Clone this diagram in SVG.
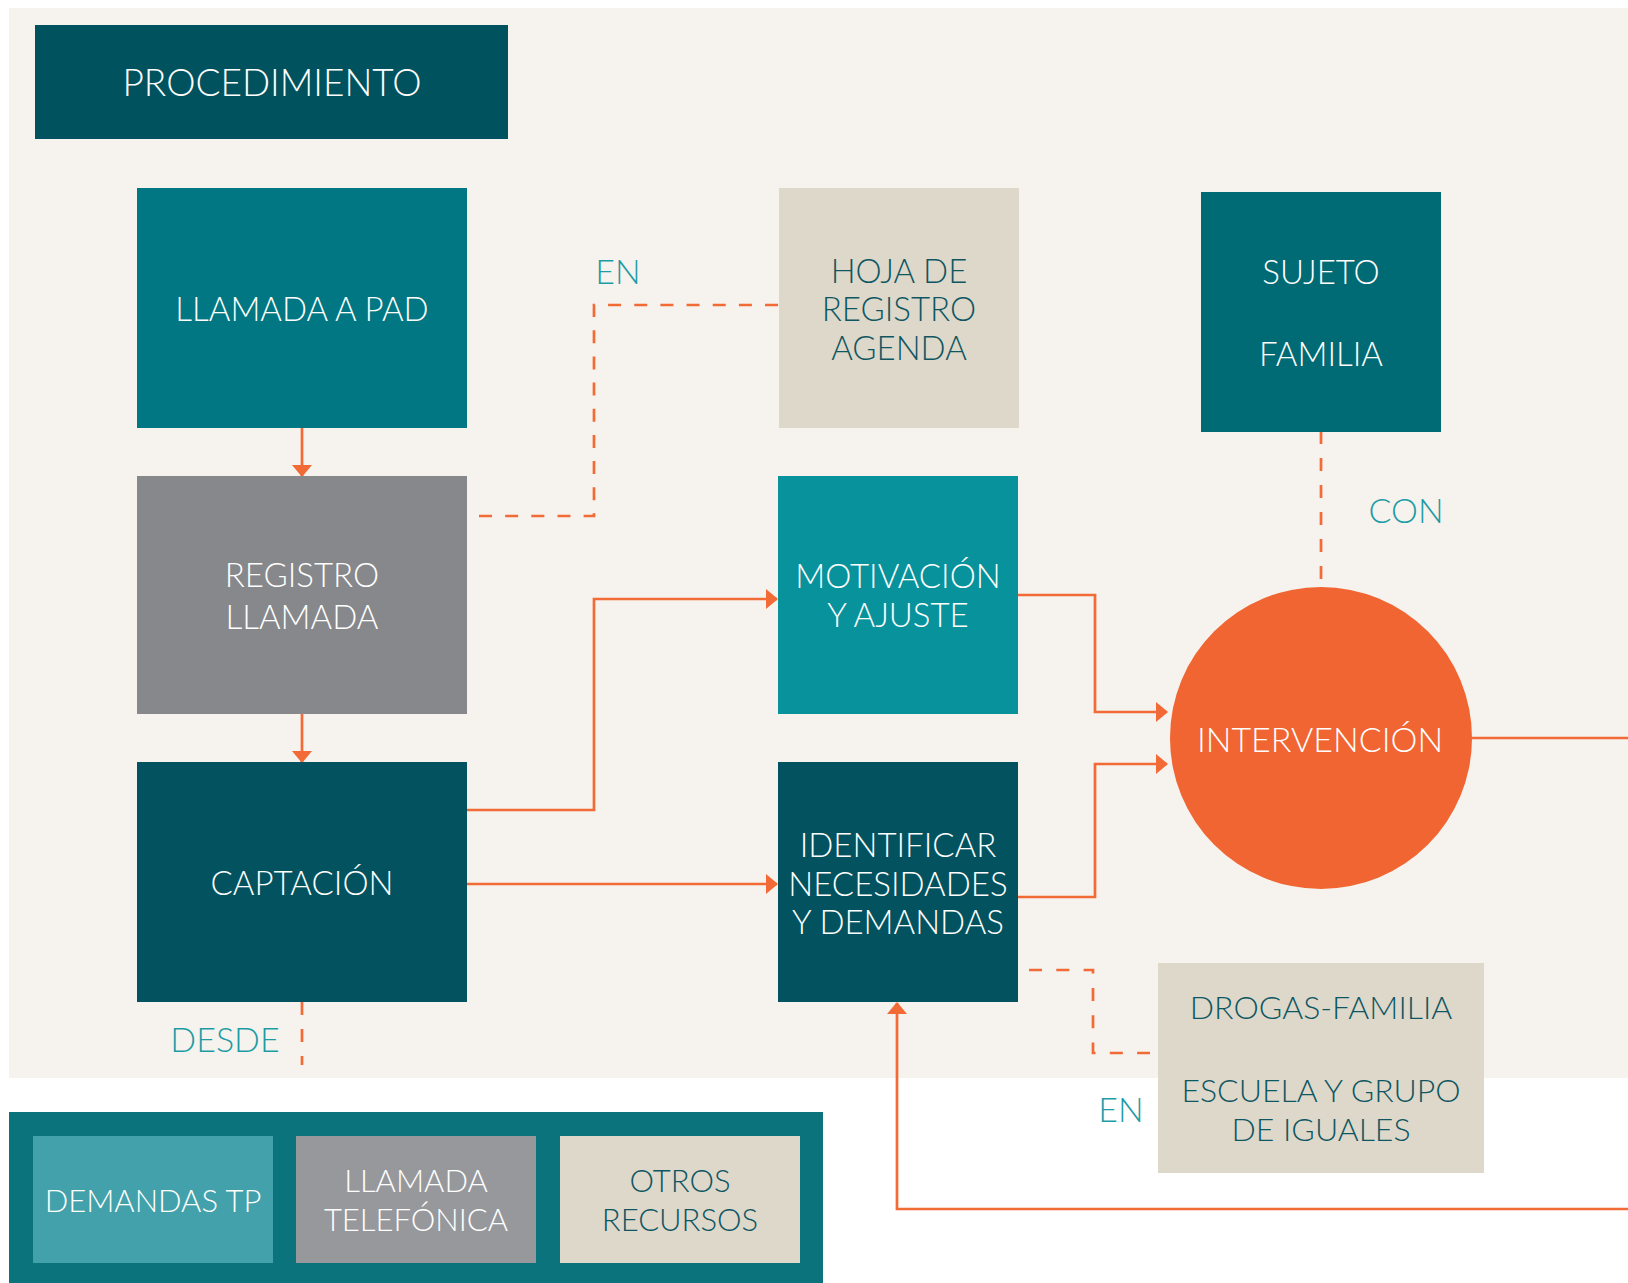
<svg xmlns="http://www.w3.org/2000/svg" width="1628" height="1283" viewBox="0 0 1628 1283">
<defs>
<style>
.t{font-family:Lato,"Open Sans","DejaVu Sans",sans-serif;font-weight:300;text-anchor:middle}
.w{fill:#ffffff}
.d{fill:#0E5762}
.lab{fill:#1D9CA6;font-size:34px}
.n{font-size:33px}
.ln{fill:none;stroke:#F26A35;stroke-width:2.7}
.dash{stroke-dasharray:13 14}
</style>
<marker id="ah" viewBox="0 0 12 20" refX="11" refY="10" markerWidth="12" markerHeight="20" markerUnits="userSpaceOnUse" orient="auto">
<path d="M0,0 L12,10 L0,20 Z" fill="#F26A35"/>
</marker>
</defs>
<rect x="0" y="0" width="1628" height="1283" fill="#ffffff"/>
<rect x="9" y="8" width="1619" height="1070" fill="#F6F3EE"/>

<g id="title">
<rect x="35" y="25" width="473" height="114" fill="#00535E"/>
<text class="t w" x="272" y="96" font-size="37">PROCEDIMIENTO</text>
</g>

<g id="connectors">
<path class="ln" d="M302,428 V476" marker-end="url(#ah)"/>
<path class="ln" d="M302,714 V762" marker-end="url(#ah)"/>
<path class="ln dash" style="stroke-dasharray:13 13.16" d="M479,516 H594 V305 H778"/>
<path class="ln" d="M467,810 H594 V599 H777" marker-end="url(#ah)"/>
<path class="ln" d="M467,884 H777" marker-end="url(#ah)"/>
<path class="ln" d="M1018,595 H1095 V712 H1167" marker-end="url(#ah)"/>
<path class="ln" d="M1018,897 H1095 V764 H1167" marker-end="url(#ah)"/>
<path class="ln dash" d="M1321,431 V587"/>
<path class="ln" d="M1472,738 H1700 V1209 H897 V1003" marker-end="url(#ah)"/>
<path class="ln dash" style="stroke-dasharray:13 14.3" d="M1029,970 H1093 V1053 H1150"/>
<path class="ln dash" d="M302,1002 V1065"/>
<text class="t lab" x="618" y="284">EN</text>
<text class="t lab" x="1406" y="523">CON</text>
<text class="t lab" x="1121" y="1122">EN</text>
<text class="t lab" x="225" y="1052">DESDE</text>
</g>

<g id="llamada-pad">
<rect x="137" y="188" width="330" height="240" fill="#007782"/>
<text class="t w n" x="302" y="321">LLAMADA A PAD</text>
</g>
<g id="registro-llamada">
<rect x="137" y="476" width="330" height="238" fill="#87888C"/>
<text class="t w n" x="302" y="587">REGISTRO</text>
<text class="t w n" x="302" y="629">LLAMADA</text>
</g>
<g id="captacion">
<rect x="137" y="762" width="330" height="240" fill="#02535F"/>
<text class="t w n" x="302" y="895">CAPTACIÓN</text>
</g>
<g id="hoja-registro">
<rect x="779" y="188" width="240" height="240" fill="#DED8CB"/>
<text class="t d n" x="899" y="283">HOJA DE</text>
<text class="t d n" x="899" y="321">REGISTRO</text>
<text class="t d n" x="899" y="360">AGENDA</text>
</g>
<g id="motivacion">
<rect x="778" y="476" width="240" height="238" fill="#07929C"/>
<text class="t w n" x="898" y="588">MOTIVACIÓN</text>
<text class="t w n" x="898" y="627">Y AJUSTE</text>
</g>
<g id="identificar">
<rect x="778" y="762" width="240" height="240" fill="#02535F"/>
<text class="t w n" x="898" y="857">IDENTIFICAR</text>
<text class="t w n" x="898" y="896">NECESIDADES</text>
<text class="t w n" x="898" y="934">Y DEMANDAS</text>
</g>
<g id="sujeto-familia">
<rect x="1201" y="192" width="240" height="240" fill="#006A75"/>
<text class="t w n" x="1321" y="284">SUJETO</text>
<text class="t w n" x="1321" y="366">FAMILIA</text>
</g>
<g id="intervencion">
<circle cx="1321" cy="738" r="151" fill="#F06532"/>
<text class="t w" x="1320" y="752" font-size="34">INTERVENCIÓN</text>
</g>
<g id="drogas-familia">
<rect x="1158" y="963" width="326" height="210" fill="#DED8CB"/>
<text class="t d" x="1321" y="1019" font-size="32">DROGAS-FAMILIA</text>
<text class="t d" x="1321" y="1102" font-size="32">ESCUELA Y GRUPO</text>
<text class="t d" x="1321" y="1141" font-size="32">DE IGUALES</text>
</g>

<g id="legend">
<rect x="9" y="1112" width="814" height="171" fill="#0A737C"/>
<g id="legend-demandas">
<rect x="33" y="1136" width="240" height="127" fill="#42A1AA"/>
<text class="t w" x="153" y="1212" font-size="31">DEMANDAS TP</text>
</g>
<g id="legend-llamada">
<rect x="296" y="1136" width="240" height="127" fill="#97989C"/>
<text class="t w" x="416" y="1192" font-size="31">LLAMADA</text>
<text class="t w" x="416" y="1231" font-size="31">TELEFÓNICA</text>
</g>
<g id="legend-otros">
<rect x="560" y="1136" width="240" height="127" fill="#DED8CB"/>
<text class="t d" x="680" y="1192" font-size="31">OTROS</text>
<text class="t d" x="680" y="1231" font-size="31">RECURSOS</text>
</g>
</g>
</svg>
